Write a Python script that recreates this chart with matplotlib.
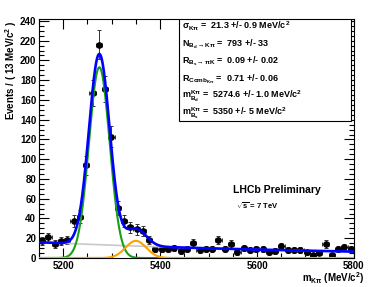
import numpy as np
import matplotlib.pyplot as plt
from matplotlib.ticker import MultipleLocator

plt.rcParams['font.family'] = ['Liberation Sans', 'DejaVu Sans']
plt.rcParams['font.weight'] = 'bold'
plt.rcParams['mathtext.fontset'] = 'custom'
plt.rcParams['mathtext.rm'] = 'Liberation Sans:bold'
plt.rcParams['mathtext.it'] = 'Liberation Sans:bold'
plt.rcParams['mathtext.bf'] = 'Liberation Sans:bold'
plt.rcParams['mathtext.default'] = 'rm'

# binned data, 13 MeV bins from 5150 to 5800
bin_width = 13
bin_centers = 5150 + bin_width / 2 + bin_width * np.arange(50)
counts = [17, 21, 14, 17, 18, 37, 42, 94, 167, 216,
          171, 123, 51, 37, 31, 29, 27, 18, 9, 9,
          9, 10, 7, 9, 15, 8, 9, 9, 18, 9,
          14, 6, 10, 8, 9, 9, 6, 7, 12, 8,
          8, 8, 6, 3, 5, 14, 3, 9, 11, 9]

# fit parameters
sigma = 21.3
n_bd = 793
r_bs = 0.09
m_bd = 5274.6
m_bs = 5350
comb_start = 16.0
comb_slope = 0.00139

counts = np.array(counts, dtype=float)
errs = np.sqrt(counts)

m = np.linspace(5150, 5800, 1200)
norm = bin_width / (np.sqrt(2 * np.pi) * sigma)
sig_bd = n_bd * norm * np.exp(-0.5 * ((m - m_bd) / sigma) ** 2)
sig_bs = r_bs * n_bd * norm * np.exp(-0.5 * ((m - m_bs) / sigma) ** 2)
comb = comb_start * np.exp(-comb_slope * (m - 5150))
total = sig_bd + sig_bs + comb

fig = plt.figure(figsize=(3.71, 2.87), dpi=100)
ax = fig.add_axes([0.105, 0.101, 0.849, 0.833])

ax.errorbar(bin_centers, counts, yerr=errs, xerr=bin_width / 2, fmt='o',
            color='black', ms=3.8, elinewidth=0.7, ecolor='#333333', capsize=1.2,
            capthick=0.7, zorder=2)
ax.plot(m, comb, color='#c8c8c8', lw=1.2, zorder=3)
ax.plot(m, sig_bd, color='#17a017', lw=1.5, zorder=4)
ax.plot(m, sig_bs, color='#ff9f00', lw=1.5, zorder=5)
ax.plot(m, total, color='#0000ff', lw=1.9, zorder=6)

ax.set_xlim(5150, 5800)
ax.set_ylim(0, 242)
ax.xaxis.set_major_locator(MultipleLocator(200))
ax.xaxis.set_minor_locator(MultipleLocator(50))
ax.yaxis.set_major_locator(MultipleLocator(20))
ax.yaxis.set_minor_locator(MultipleLocator(5))
ax.tick_params(which='both', direction='in', top=True, right=True,
               labelsize=7, width=0.8)
ax.tick_params(axis='x', pad=2.5)
ax.tick_params(axis='y', pad=2)
ax.tick_params(which='major', length=7)
ax.tick_params(which='minor', length=3.5)
for lab in ax.get_xticklabels() + ax.get_yticklabels():
    lab.set_fontweight('bold')
labs = ax.get_xticklabels()
labs[-1].set_horizontalalignment('right')

fig.text(0.03, 0.93, r'Events / ( 13 MeV/c$^{2}$ )', fontsize=7,
         fontweight='bold', rotation=90, ha='center', va='top')
fig.text(0.982, 0.004, r'm$_{K\pi}$ (MeV/c$^{2}$)', fontsize=7,
         fontweight='bold', ha='right', va='bottom')

box_lines = [
    r'$\sigma_{K\pi}$ =  21.3 +/- 0.9 MeV/c$^{2}$',
    r'N$_{B_d\rightarrow K\pi}$ =  793 +/- 33',
    r'R$_{B_s\rightarrow \pi K}$ =  0.09 +/- 0.02',
    r'R$_{Comb_{K\pi}}$ =  0.71 +/- 0.06',
    r'm$^{K\pi}_{B_d}$ =  5274.6 +/- 1.0 MeV/c$^{2}$',
    r'm$^{K\pi}_{B_s}$ =  5350 +/- 5 MeV/c$^{2}$',
]
box = plt.Rectangle((0.444, 0.575), 0.548, 0.425, transform=ax.transAxes,
                    fill=True, facecolor='white', edgecolor='black', lw=0.8,
                    zorder=7)
ax.add_patch(box)
for i, line in enumerate(box_lines):
    ax.text(0.455, 0.968 - i * 0.073, line, transform=ax.transAxes,
            fontsize=6.5, fontweight='bold', va='center', ha='left', zorder=8)

ax.text(0.615, 0.285, 'LHCb Preliminary', transform=ax.transAxes,
        fontsize=7.5, fontweight='bold', va='center')
ax.text(0.625, 0.22, r'$\sqrt{s}$ = 7 TeV', transform=ax.transAxes,
        fontsize=5.5, fontweight='bold', va='center')

fig.savefig('out.png', dpi=100)
